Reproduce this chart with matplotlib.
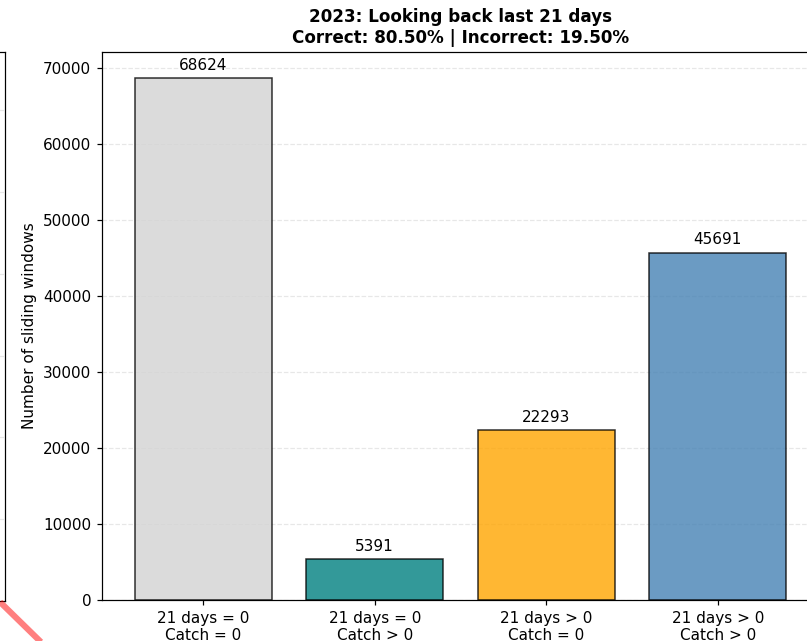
import matplotlib
matplotlib.use("Agg")
import matplotlib.pyplot as plt
from matplotlib.lines import Line2D

# Sliding-window counts for 2023 (21-day look-back)
categories = ["21 days = 0\nCatch = 0", "21 days = 0\nCatch > 0",
              "21 days > 0\nCatch = 0", "21 days > 0\nCatch > 0"]
counts = [68624, 5391, 22293, 45691]
bar_colors = ["lightgray", "teal", "orange", "steelblue"]
title_text = "2023: Looking back last 21 days\nCorrect: 80.50% | Incorrect: 19.50%"

W, H = 807, 641
DPI = 110
fig = plt.figure(figsize=(W / DPI, H / DPI), dpi=DPI)

# Neighbouring panel, mostly outside the visible area
ax_prev = fig.add_axes([(5 - 700) / W, (H - 601) / H, 700 / W, 549 / H])
ax_prev.set_ylim(0, 67100)
ax_prev.set_yticks(range(0, 70000, 10000))
ax_prev.set_xticks([])
ax_prev.tick_params(labelleft=False, left=False)
ax_prev.grid(axis="y", linestyle="--", alpha=0.3)
ax_prev.set_axisbelow(True)

# Main panel
ax = fig.add_axes([102 / W, (H - 600) / H, 717 / W, 548 / H])
x = range(len(categories))
bars = ax.bar(x, counts, color=bar_colors, edgecolor="black", alpha=0.8, width=0.8)
ax.set_xticks(list(x))
ax.set_xticklabels(categories)
ax.set_ylim(0, max(counts) * 1.05)
ax.set_ylabel("Number of sliding windows")
ax.set_title(title_text, fontsize=11, fontweight="bold")
ax.grid(axis="y", linestyle="--", alpha=0.3)
ax.set_axisbelow(True)

for b, v in zip(bars, counts):
    ax.text(b.get_x() + b.get_width() / 2, v + max(counts) * 0.01, f"{v}",
            ha="center", va="bottom", fontsize=10)

# Highlight stroke at the lower-left corner
fig.add_artist(Line2D([0 / W, 45 / W], [(H - 602) / H, (H - 646) / H],
                      transform=fig.transFigure, color="red", alpha=0.5,
                      linewidth=4, solid_capstyle="butt"))

fig.savefig("out.png", dpi=DPI)
